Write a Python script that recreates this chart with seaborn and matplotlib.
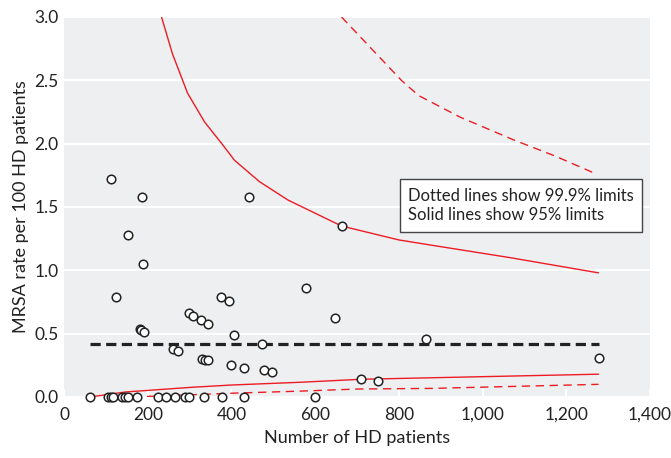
import numpy as np
import pandas as pd
import matplotlib.pyplot as plt
import seaborn as sns

# Units (number of HD patients) and MRSA rate per 100 HD patients
units = [113, 187, 441, 152, 188, 124, 375, 394, 299, 309, 327, 345, 181, 185,
         192, 406, 261, 273, 330, 336, 345, 400, 431, 577, 647, 474, 478, 497,
         663, 865, 709, 751, 1279,
         62, 106, 112, 118, 138, 146, 152, 175, 224, 244, 266, 290, 298, 334,
         377, 430, 599]
rates = [1.72, 1.58, 1.58, 1.28, 1.05, 0.79, 0.79, 0.76, 0.66, 0.64, 0.61, 0.58,
         0.54, 0.53, 0.51, 0.49, 0.38, 0.36, 0.30, 0.29, 0.29, 0.25, 0.23, 0.86,
         0.62, 0.42, 0.21, 0.20, 1.35, 0.46, 0.14, 0.13, 0.31,
         0, 0, 0, 0, 0, 0, 0, 0, 0, 0, 0, 0, 0, 0, 0, 0, 0]

mean_rate = 0.42
mean_range = [62, 1279]

# 95% limits (solid)
up95_n = [233, 259, 295, 336, 377, 407, 467, 535, 663, 800, 875, 1066, 1277]
up95_y = [3.0, 2.71, 2.40, 2.17, 2.0, 1.87, 1.70, 1.555, 1.35, 1.24, 1.20, 1.10, 0.98]
lo95_n = [62, 148, 307, 403, 563, 711, 1277]
lo95_y = [0.0, 0.04, 0.077, 0.095, 0.116, 0.14, 0.18]

# 99.9% limits (dashed)
up999_n = [663, 806, 847, 946, 1074, 1175, 1265]
up999_y = [3.0, 2.50, 2.38, 2.21, 2.03, 1.90, 1.77]
lo999_n = [165, 403, 570, 702, 881, 1277]
lo999_y = [0.0, 0.03, 0.047, 0.063, 0.068, 0.10]

sns.set_theme(style="darkgrid", rc={
    "axes.facecolor": "#eeeff1",
    "grid.color": "white",
    "grid.linewidth": 1.5,
})
plt.rcParams["font.family"] = ["Lato", "DejaVu Sans"]

fig, ax = plt.subplots(figsize=(6.71, 4.58), dpi=100)
fig.subplots_adjust(left=0.0954, right=0.9687, bottom=0.1332, top=0.9629)

red = "#ec1c24"
sns.lineplot(x=up95_n, y=up95_y, ax=ax, color=red, lw=1, sort=False)
sns.lineplot(x=lo95_n, y=lo95_y, ax=ax, color=red, lw=1, sort=False)
sns.lineplot(x=up999_n, y=up999_y, ax=ax, color=red, lw=1, sort=False,
             linestyle=(0, (6, 4)))
sns.lineplot(x=lo999_n, y=lo999_y, ax=ax, color=red, lw=1, sort=False,
             linestyle=(0, (6, 4)))
sns.lineplot(x=mean_range, y=[mean_rate, mean_rate], ax=ax, color="#222222",
             lw=2.3, linestyle=(0, (3.2, 1.7)))

df = pd.DataFrame({"n": units, "rate": rates})
sns.scatterplot(data=df, x="n", y="rate", ax=ax, s=38, color="white",
                edgecolor="#222222", linewidth=1.1, zorder=5, clip_on=False)

ax.set_xlim(0, 1400)
ax.set_ylim(0, 3.0)
ax.set_xticks(range(0, 1401, 200))
ax.set_xticklabels(["0", "200", "400", "600", "800", "1,000", "1,200", "1,400"])
ax.set_yticks(np.arange(0, 3.01, 0.5))
ax.set_yticklabels([f"{v:.1f}" for v in np.arange(0, 3.01, 0.5)])
ax.grid(axis="x", visible=False)
ax.tick_params(axis="x", direction="in", length=6, width=1.5, color="white",
               labelsize=12.5, pad=7, bottom=True, labelcolor="#222222")
ax.tick_params(axis="y", labelsize=12.5, pad=4, length=0, left=False,
               labelcolor="#222222")
for sp in ax.spines.values():
    sp.set_visible(False)

ax.set_xlabel("Number of HD patients", fontsize=13, color="#222222", labelpad=5)
ax.set_ylabel("MRSA rate per 100 HD patients", fontsize=13, color="#222222",
              labelpad=4)

ax.text(0.587, 0.504, "Dotted lines show 99.9% limits\nSolid lines show 95% limits",
        transform=ax.transAxes, fontsize=12, va="center", ha="left",
        linespacing=1.3, color="#222222", zorder=6,
        bbox=dict(boxstyle="square,pad=0.5", facecolor="white",
                  edgecolor="#444444", linewidth=1))

fig.savefig("out.png", dpi=100)
